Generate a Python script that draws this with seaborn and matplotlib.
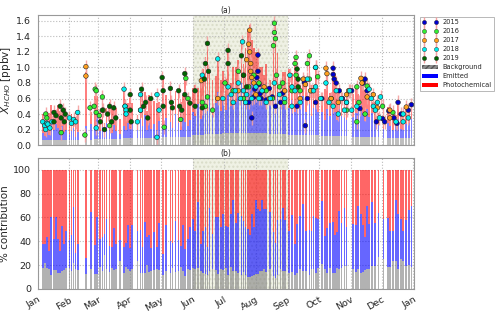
import numpy as np
import pandas as pd
import matplotlib
matplotlib.use('Agg')
import matplotlib.pyplot as plt
import seaborn as sns
from matplotlib.lines import Line2D
from matplotlib.patches import Patch

# observed HCHO (ppbv) by day of year, one pair of lists per year
years = [2015, 2016, 2017, 2018, 2019]
year_colors = ['#0000cd', '#33ee33', '#ffa020', '#00eeee', '#006400']

days_2015 = [205, 208, 210, 211, 213, 214, 214, 215, 216, 217, 219, 222, 225, 228, 231, 236, 238, 252,
             259, 260, 262, 270, 276, 287, 287, 288, 290, 293, 296, 300, 305, 313, 316, 318, 320, 329,
             335, 337, 341, 346, 349, 350, 353, 360, 363]
hcho_2015 = [0.55, 0.35, 0.62, 0.72, 0.87, 1.16, 0.95, 0.78, 0.66, 0.60, 0.70, 0.58, 0.73, 0.62, 0.50,
             0.55, 0.67, 0.50, 0.81, 0.25, 0.60, 0.55, 0.60, 0.99, 0.91, 0.85, 0.80, 0.70, 0.60, 0.55,
             0.70, 0.47, 0.80, 0.85, 0.70, 0.30, 0.34, 0.30, 0.44, 0.35, 0.28, 0.55, 0.40, 0.45, 0.52]

days_2016 = [8, 9, 23, 46, 51, 55, 56, 57, 57, 60, 63, 70, 85, 100, 123, 139, 144, 146, 160, 163, 165,
             170, 182, 190, 195, 200, 205, 210, 215, 222, 228, 229, 230, 230, 231, 232, 235, 238, 240,
             247, 250, 251, 251, 255, 262, 264, 264, 266, 270, 272, 285, 300, 310, 310, 312, 318, 320,
             335, 345]
hcho_2016 = [0.40, 0.35, 0.16, 0.13, 0.48, 0.50, 0.72, 0.70, 0.42, 0.38, 0.62, 0.25, 0.50, 0.45, 0.23,
             0.33, 0.86, 0.60, 0.55, 0.50, 0.62, 0.45, 0.80, 0.70, 0.95, 0.60, 0.75, 0.90, 0.80, 0.70,
             0.60, 1.28, 1.57, 1.45, 1.37, 0.90, 0.75, 0.80, 0.55, 0.70, 1.05, 1.13, 0.90, 0.70, 1.05,
             1.15, 0.85, 0.70, 1.00, 0.88, 0.60, 0.45, 0.75, 0.30, 0.55, 0.40, 0.76, 0.50, 0.42]

days_2017 = [47, 47, 64, 159, 175, 195, 200, 203, 205, 206, 206, 207, 207, 208, 210, 212, 220, 225, 240,
             255, 258, 260, 265, 280, 281, 285, 292, 300, 302, 314, 315, 320, 326, 330, 342, 342, 358]
hcho_2017 = [1.01, 0.89, 0.45, 0.83, 0.60, 0.70, 0.90, 1.10, 1.30, 1.48, 1.20, 1.05, 0.95, 0.87, 0.80,
             0.65, 0.75, 0.60, 0.70, 0.60, 0.85, 0.78, 0.70, 0.99, 0.92, 0.60, 0.55, 0.65, 0.70, 0.86,
             0.80, 0.62, 0.65, 0.48, 0.45, 0.35, 0.49]

days_2018 = [5, 7, 8, 9, 10, 12, 14, 31, 33, 35, 37, 39, 57, 84, 85, 86, 86, 97, 100, 100, 116, 116, 118,
             160, 175, 180, 185, 188, 190, 192, 195, 197, 199, 200, 202, 203, 208, 212, 215, 218, 222,
             226, 230, 235, 240, 245, 247, 247, 250, 255, 262, 268, 270, 270, 275, 280, 283, 287, 290,
             292, 295, 298, 300, 303, 305, 310, 322, 324, 326, 328, 330, 332, 333, 348, 355, 355, 360]
hcho_2018 = [0.30, 0.25, 0.20, 0.28, 0.27, 0.22, 0.30, 0.35, 0.28, 0.33, 0.30, 0.42, 0.22, 0.72, 0.50,
             0.45, 0.40, 0.30, 0.65, 0.45, 0.65, 0.10, 0.45, 0.90, 1.11, 0.60, 0.75, 0.65, 0.55, 0.70,
             0.80, 0.60, 1.33, 0.70, 0.55, 0.65, 0.60, 0.75, 0.60, 0.70, 0.55, 0.60, 0.80, 0.65, 0.60,
             0.90, 0.75, 0.50, 0.70, 0.55, 0.85, 0.70, 1.00, 0.75, 0.60, 0.80, 0.55, 0.50, 0.70, 0.40,
             0.60, 0.45, 0.55, 0.70, 0.45, 0.50, 0.72, 0.60, 0.50, 0.45, 0.55, 0.35, 0.62, 0.30, 0.40,
             0.30, 0.35]

days_2019 = [16, 16, 18, 22, 23, 25, 26, 27, 61, 63, 65, 68, 70, 72, 74, 76, 90, 90, 91, 101, 103, 105,
             107, 110, 121, 122, 122, 129, 130, 131, 137, 138, 140, 143, 143, 148, 153, 153, 160, 162,
             163, 165, 166, 185, 185, 198, 200, 203, 252, 253, 253]
hcho_2019 = [0.30, 0.42, 0.38, 0.50, 0.35, 0.45, 0.30, 0.40, 0.30, 0.45, 0.20, 0.40, 0.50, 0.30, 0.48,
             0.35, 0.65, 0.45, 0.30, 0.72, 0.50, 0.55, 0.35, 0.60, 0.87, 0.70, 0.50, 0.73, 0.55, 0.48,
             0.70, 0.50, 0.45, 0.92, 0.65, 0.54, 0.70, 0.50, 0.48, 0.85, 1.05, 1.31, 0.95, 1.22, 1.05,
             1.15, 0.90, 0.75, 0.98, 0.85, 0.75]

hcho_unc = 0.09  # ppbv, measurement uncertainty

# modelled contributions (ppbv)
bar_day = [5, 7, 9, 11, 13, 16, 18, 20, 22, 24, 26, 28,
           31, 33, 35, 37, 39, 47, 52, 56, 58,
           61, 63, 65, 67, 70, 72, 74, 76, 80, 84, 86, 88,
           90, 92, 97, 100, 102, 104, 106, 108, 110, 113, 116, 118,
           122, 125, 129, 131, 134, 137, 139, 141, 143, 146, 148,
           151, 153, 156, 159, 161, 163, 165, 167, 170, 173, 175, 178,
           180, 183, 185, 188, 190, 193, 195, 198, 200, 202, 204, 206, 208, 210,
           212, 214, 216, 218, 220, 222, 226, 229, 231, 233, 236, 238, 240,
           244, 247, 250, 252, 255, 258, 261, 264, 266, 268, 270, 272,
           276, 279, 281, 284, 287, 289, 291, 293, 295, 298, 300,
           306, 309, 311, 314, 316, 318, 320, 322, 325, 328, 331,
           336, 340, 342, 345, 348, 350, 353, 355, 358, 361, 363]
bg_ppb = [0.07, 0.07, 0.07, 0.07, 0.06, 0.07, 0.07, 0.07, 0.06, 0.07, 0.07, 0.07,
          0.06, 0.06, 0.07, 0.06, 0.07, 0.12, 0.07, 0.08, 0.08,
          0.08, 0.08, 0.08, 0.08, 0.08, 0.08, 0.08, 0.08, 0.08, 0.09, 0.09, 0.09,
          0.09, 0.09, 0.09, 0.09, 0.09, 0.09, 0.09, 0.09, 0.09, 0.09, 0.09, 0.09,
          0.10, 0.10, 0.10, 0.10, 0.10, 0.10, 0.10, 0.10, 0.10, 0.10, 0.10,
          0.13, 0.13, 0.13, 0.13, 0.13, 0.14, 0.14, 0.14, 0.14, 0.14, 0.14, 0.14,
          0.15, 0.15, 0.15, 0.15, 0.15, 0.15, 0.15, 0.15, 0.15, 0.15, 0.15, 0.15, 0.15, 0.15,
          0.15, 0.15, 0.15, 0.15, 0.15, 0.15, 0.14, 0.14, 0.14, 0.14, 0.14, 0.14, 0.14,
          0.13, 0.13, 0.13, 0.13, 0.13, 0.13, 0.13, 0.13, 0.13, 0.13, 0.13, 0.13,
          0.12, 0.12, 0.12, 0.12, 0.12, 0.12, 0.12, 0.12, 0.12, 0.12, 0.12,
          0.11, 0.11, 0.11, 0.11, 0.11, 0.11, 0.11, 0.11, 0.11, 0.11, 0.11,
          0.09, 0.09, 0.09, 0.09, 0.09, 0.09, 0.09, 0.09, 0.09, 0.09, 0.09]
emit_ppb = [0.08, 0.05, 0.10, 0.06, 0.25, 0.12, 0.20, 0.15, 0.08, 0.18, 0.10, 0.12,
            0.08, 0.12, 0.15, 0.05, 0.10, 0.12, 0.20, 0.15, 0.30,
            0.10, 0.15, 0.05, 0.20, 0.12, 0.08, 0.18, 0.10, 0.06, 0.15, 0.10, 0.20,
            0.12, 0.20, 0.10, 0.25, 0.15, 0.30, 0.10, 0.20, 0.12, 0.18, 0.10, 0.22,
            0.15, 0.25, 0.20, 0.12, 0.30, 0.18, 0.10, 0.25, 0.20, 0.15, 0.22,
            0.30, 0.25, 0.40, 0.20, 0.35, 0.45, 0.30, 0.50, 0.25, 0.40, 0.55, 0.30,
            0.45, 0.30, 0.50, 0.35, 0.60, 0.40, 0.55, 0.65, 0.45, 0.50, 0.60, 0.55, 0.70, 0.50,
            0.75, 0.65, 0.50, 0.60, 0.45, 0.55, 0.40, 0.50, 0.45, 0.55, 0.35, 0.50, 0.40,
            0.35, 0.45, 0.30, 0.40, 0.35, 0.50, 0.30, 0.40, 0.25, 0.35, 0.45, 0.30,
            0.30, 0.20, 0.35, 0.25, 0.40, 0.30, 0.20, 0.35, 0.25, 0.30, 0.20,
            0.25, 0.30, 0.35, 0.40, 0.30, 0.20, 0.35, 0.25, 0.30, 0.20, 0.15,
            0.12, 0.20, 0.15, 0.10, 0.20, 0.25, 0.12, 0.10, 0.18, 0.20, 0.25]
photo_ppb = [0.25, 0.20, 0.22, 0.28, 0.20, 0.26, 0.18, 0.30, 0.30, 0.22, 0.28, 0.20,
             0.20, 0.22, 0.10, 0.25, 0.28, 0.70, 0.15, 0.40, 0.25,
             0.25, 0.30, 0.15, 0.20, 0.35, 0.30, 0.25, 0.30, 0.20, 0.45, 0.30, 0.25,
             0.40, 0.25, 0.20, 0.35, 0.45, 0.30, 0.25, 0.35, 0.40, 0.30, 0.35, 0.25,
             0.60, 0.30, 0.45, 0.35, 0.30, 0.40, 0.35, 0.30, 0.60, 0.35, 0.30,
             0.30, 0.40, 0.20, 0.55, 0.50, 0.55, 0.80, 0.30, 0.45, 0.35, 0.45, 0.40,
             0.35, 0.40, 0.60, 0.30, 0.25, 0.45, 0.40, 0.50, 0.45, 0.60, 0.75, 0.85, 0.50, 0.60,
             0.30, 0.40, 0.35, 0.25, 0.30, 0.35, 0.30, 0.70, 0.95, 0.50, 0.35, 0.30, 0.40,
             0.50, 0.35, 0.70, 0.45, 0.30, 0.25, 0.45, 0.55, 0.40, 0.30, 0.40, 0.30,
             0.15, 0.40, 0.45, 0.30, 0.40, 0.50, 0.35, 0.25, 0.30, 0.20, 0.30,
             0.30, 0.35, 0.20, 0.30, 0.35, 0.40, 0.20, 0.30, 0.15, 0.25, 0.15,
             0.15, 0.20, 0.25, 0.20, 0.10, 0.20, 0.15, 0.20, 0.20, 0.15, 0.15]

month_starts = [0, 31, 59, 90, 120, 151, 181, 212, 243, 273, 304, 334, 365]
month_labels = ['Jan', 'Feb', 'Mar', 'Apr', 'May', 'Jun', 'Jul', 'Aug', 'Sep', 'Oct', 'Nov', 'Dec', 'Jan']
summer = (151, 243)

obs_days = [days_2015, days_2016, days_2017, days_2018, days_2019]
obs_vals = [hcho_2015, hcho_2016, hcho_2017, hcho_2018, hcho_2019]
obs = pd.concat([pd.DataFrame({'day': d, 'hcho': v, 'year': y})
                 for d, v, y in zip(obs_days, obs_vals, years)], ignore_index=True)

bars = pd.DataFrame({'day': bar_day, 'bg': bg_ppb, 'emit': emit_ppb, 'photo': photo_ppb})
total = bars[['bg', 'emit', 'photo']].sum(axis=1)
for c in ['bg', 'emit', 'photo']:
    bars[c + '_pct'] = bars[c] / total * 100

sns.set_style('whitegrid', {'grid.linestyle': ':', 'grid.color': '#bbbbbb',
                            'axes.edgecolor': '#999999'})
plt.rcParams['font.family'] = ['DejaVu Sans']

fig = plt.figure(figsize=(5, 3.12), dpi=100)
ax1 = fig.add_axes([0.075, 0.535, 0.753, 0.418])
ax2 = fig.add_axes([0.075, 0.074, 0.753, 0.420])

bw = 1.7
bar_colors = {'bg': 'gray', 'emit': 'blue', 'photo': 'red'}
for ax, suffix, a in [(ax1, '', 0.5), (ax2, '_pct', 0.6)]:
    ax.axvspan(*summer, facecolor='#eff1e4', edgecolor='#d9dcc8', hatch='....', lw=0, zorder=0)
    bottom = np.zeros(len(bars))
    for c in ['bg', 'emit', 'photo']:
        ax.bar(bars['day'], bars[c + suffix], bottom=bottom, width=bw, color=bar_colors[c],
               alpha=a, lw=0, zorder=2)
        bottom = bottom + bars[c + suffix].values

err_color = '#f4a0a0'
ax1.errorbar(obs['day'], obs['hcho'], yerr=hcho_unc, fmt='none', ecolor=err_color,
             elinewidth=1, alpha=0.9, zorder=3)
sns.scatterplot(data=obs, x='day', y='hcho', hue='year', palette=dict(zip(years, year_colors)),
                s=11, edgecolor='#222222', linewidth=0.4, legend=False, ax=ax1, zorder=4)

for ax in (ax1, ax2):
    ax.set_xlim(0, 365.5)
    ax.set_xticks(month_starts)
    ax.tick_params(labelsize=6.8, pad=1)
    ax.set_axisbelow(True)
ax1.set_xticklabels([])
ax2.set_xticklabels(month_labels, rotation=30, ha='right', rotation_mode='anchor')

ax1.set_ylim(0, 1.68)
ax1.set_yticks(np.arange(0, 1.61, 0.2))
ax1.yaxis.set_major_formatter(matplotlib.ticker.FormatStrFormatter('%.1f'))
ax2.set_ylim(0, 110)
ax2.set_yticks(range(0, 101, 20))

ax1.set_xlabel('')
ax1.set_ylabel('$X_{HCHO}$ [ppbv]', fontsize=7.5, labelpad=2)
ax2.set_ylabel('% contribution', fontsize=7.5, labelpad=2)
ax1.set_title('(a)', fontsize=5.5, pad=1.5)
ax2.set_title('(b)', fontsize=5.5, pad=1.5)

handles = []
for c in year_colors:
    handles.append((Line2D([], [], marker='|', ms=7, mew=1, color=err_color, ls='none'),
                    Line2D([], [], marker='o', ms=3.0, color=c, mec='#222222', mew=0.3, ls='none')))
handles += [Patch(facecolor='#8c8c8c', edgecolor='#555555', hatch='//////', lw=0),
            Patch(facecolor='blue', lw=0),
            Patch(facecolor='red', lw=0)]
labels = [str(y) for y in years] + ['Background', 'Emitted', 'Photochemical']
leg = ax1.legend(handles, labels, loc='upper left', bbox_to_anchor=(1.01, 1.0), numpoints=2,
                 fontsize=4.8, frameon=True, fancybox=False, edgecolor='#999999',
                 labelspacing=0.45, handlelength=2.4, handletextpad=0.6, borderaxespad=0.3)
leg.get_frame().set_linewidth(0.6)

fig.savefig('out.png', dpi=100)
